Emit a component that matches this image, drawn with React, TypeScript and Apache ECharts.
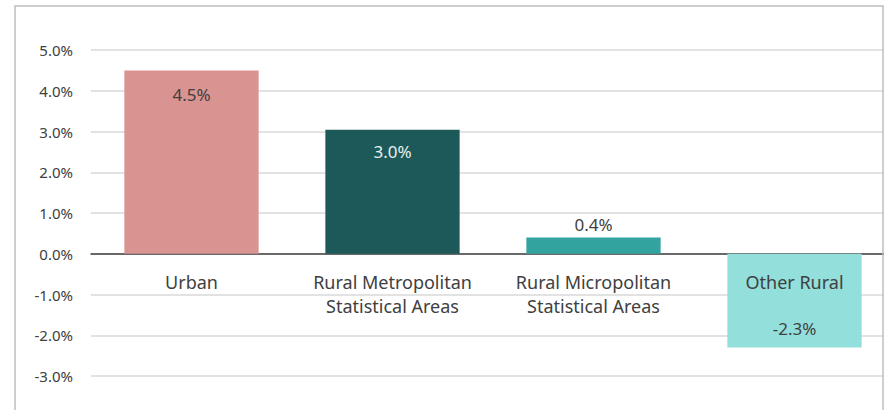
import React, { useEffect, useRef } from "react";
import * as echarts from "echarts";

const categories = [
  "Urban",
  "Rural Metropolitan\nStatistical Areas",
  "Rural Micropolitan\nStatistical Areas",
  "Other Rural",
];
const values = [4.5, 3.04, 0.4, -2.3];
const barColors = ["#d99391", "#1d5958", "#33a39f", "#93dfdc"];
const labelColors = ["#404040", "#e8f0ef", "#404040", "#404040"];
const yMin = -3;
const yMax = 5;
const yStep = 1;

const FONT = "Noto Sans";

export default function App() {
  const ref = useRef<HTMLDivElement>(null);
  useEffect(() => {
    if (!ref.current) return;
    const chart = echarts.init(ref.current, null, { renderer: "svg" });
    const labelCfg = (i: number) => {
      const v = values[i];
      const base: any = {
        show: true,
        color: labelColors[i],
        fontFamily: FONT,
        fontSize: 17,
        formatter: (p: any) => `${Number(p.value).toFixed(1)}%`,
      };
      if (i === 0) return { ...base, position: "insideTop", distance: 16 };
      if (i === 1) return { ...base, position: "insideTop", distance: 13 };
      if (i === 2) return { ...base, position: "top", distance: 4 };
      return { ...base, position: v < 0 ? "insideBottom" : "insideTop", distance: 10 };
    };
    chart.setOption({
      animation: false,
      backgroundColor: "#ffffff",
      graphic: [
        {
          type: "rect",
          shape: { x: 884, y: 0, width: 20, height: 420 },
          style: { fill: "#ffffff" },
          silent: true,
          z: 50,
        },
        {
          type: "rect",
          shape: { x: 15, y: 6, width: 868, height: 420 },
          style: { fill: "none", stroke: "#bfbfbf", lineWidth: 1.5 },
          silent: true,
          z: 51,
        },
      ],
      grid: { left: 91, right: -10, top: 50, bottom: 34, outerBoundsMode: "none", containLabel: false },
      xAxis: {
        type: "category",
        data: categories,
        axisLine: { onZero: true, lineStyle: { color: "#404040", width: 1.5 } },
        axisTick: { show: false },
        axisLabel: { show: false },
        splitLine: { show: false },
      },
      yAxis: {
        type: "value",
        min: yMin,
        max: yMax,
        interval: yStep,
        axisLine: { show: false },
        axisTick: { show: false },
        axisLabel: {
          color: "#404040",
          fontFamily: FONT,
          fontSize: 15,
          margin: 18,
          formatter: (v: number) => `${v.toFixed(1)}%`,
        },
        splitLine: { lineStyle: { color: "#d9d9d9", width: 1.5 } },
      },
      series: [
        {
          type: "bar",
          barWidth: "66.8%",
          data: values.map((v, i) => ({
            value: v,
            itemStyle: { color: barColors[i] },
            label: labelCfg(i),
          })),
        },
        {
          type: "bar",
          barWidth: "66.8%",
          barGap: "-100%",
          silent: true,
          itemStyle: { color: "rgba(0,0,0,0)" },
          data: categories.map(() => 0),
          label: {
            show: true,
            position: "bottom",
            distance: 16,
            color: "#404040",
            fontFamily: FONT,
            fontSize: 18,
            lineHeight: 24,
            formatter: (p: any) => categories[p.dataIndex],
          },
        },
      ],
    });
    return () => chart.dispose();
  }, []);
  return (
    <div
      ref={ref}
      style={{ position: "fixed", left: 0, top: 0, width: 885, height: 410 }}
    />
  );
}
